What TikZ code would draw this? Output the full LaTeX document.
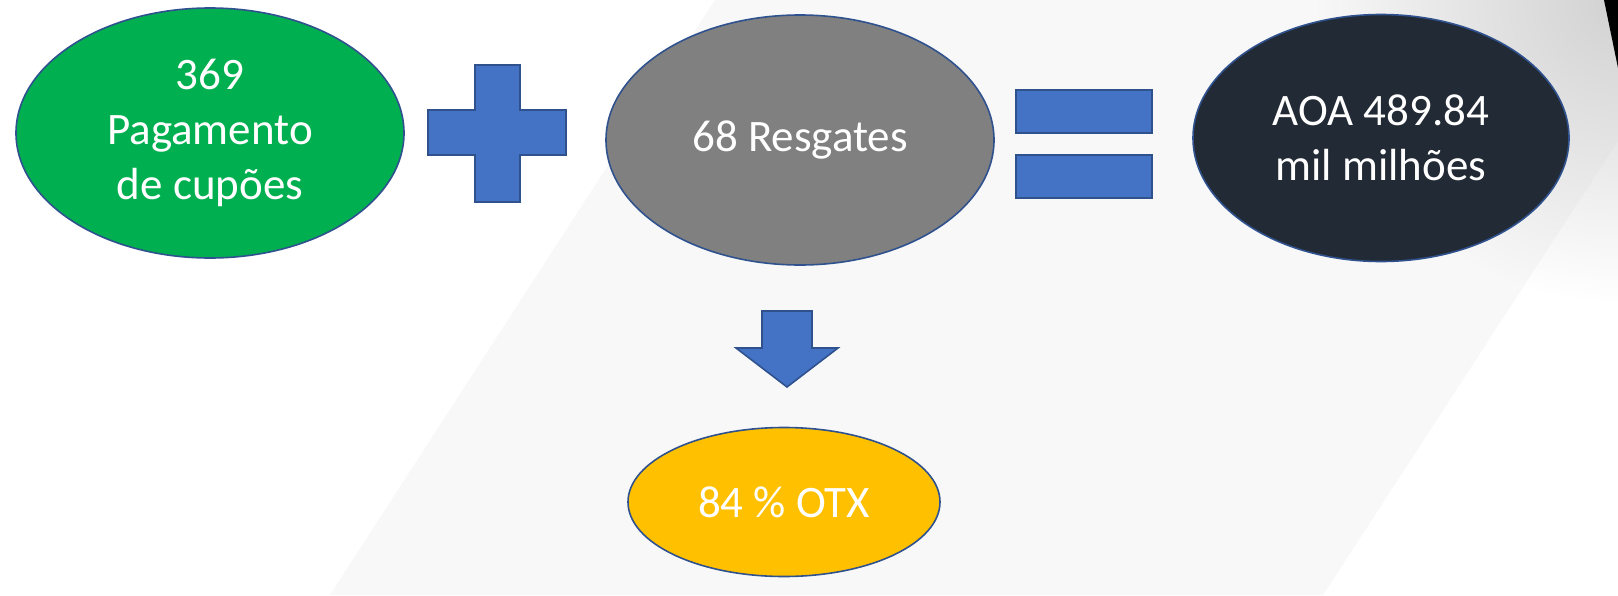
\documentclass[tikz,border=0pt]{standalone}
\usepackage{fontspec}
\setmainfont{Carlito}
\usetikzlibrary{shapes.geometric,fadings}
\definecolor{bblue}{HTML}{4472C4}
\definecolor{bline}{HTML}{2F528F}
\definecolor{cgreen}{HTML}{00B050}
\definecolor{cgray}{HTML}{808080}
\definecolor{cdark}{HTML}{222A35}
\definecolor{cyellow}{HTML}{FFC000}
\definecolor{bgpanel}{HTML}{F8F8F8}
\tikzfading[name=cornerfade, inner color=transparent!0, outer color=transparent!100]
\tikzset{
  oval/.style={ellipse, draw=bline, line width=1.6pt, inner sep=0pt, text=white,
    align=center, font=\fontsize{45}{55}\selectfont},
  symb/.style={fill=bblue, draw=bline, line width=1.6pt, line join=miter}
}
\begin{document}
\begin{tikzpicture}[x=1pt,y=-1pt]
\useasboundingbox (0,0) rectangle (1618,595);
\fill[white] (0,0) rectangle (1618,595);
\fill[bgpanel] (715,0) -- (1618,0) -- (1618,141) -- (1323,595) -- (330,595) -- cycle;
\begin{scope}
  \clip (0,0) rectangle (1618,595);
  \fill[gray!35, path fading=cornerfade] (1618,0) circle[radius=300];
\end{scope}
\fill[black] (1604,0) -- (1618,0) -- (1618,68) -- cycle;

\node[oval, fill=cgreen, minimum width=388pt, minimum height=250pt] (pag) at (210,133) {369\\Pagamento\\de cupões};
\node[oval, fill=cgray, minimum width=388pt, minimum height=250pt] (res) at (800,140) {68 Resgates};
\node[oval, fill=cdark, minimum width=376pt, minimum height=247pt] (aoa) at (1381,138) {AOA 489.84\\mil milhões};
\node[oval, fill=cyellow, minimum width=312pt, minimum height=149pt] (otx) at (784,502) {84 \% OTX};

% plus sign
\path[symb] (475,65) -- (520,65) -- (520,110) -- (566,110) -- (566,155) -- (520,155)
  -- (520,202) -- (475,202) -- (475,155) -- (428,155) -- (428,110) -- (475,110) -- cycle;
% equals sign
\path[symb] (1016,90) rectangle (1152,133);
\path[symb] (1016,155) rectangle (1152,198);
% down arrow
\path[symb] (762,311) -- (812,311) -- (812,348) -- (838,348) -- (787,387)
  -- (736,348) -- (762,348) -- cycle;
\end{tikzpicture}
\end{document}
